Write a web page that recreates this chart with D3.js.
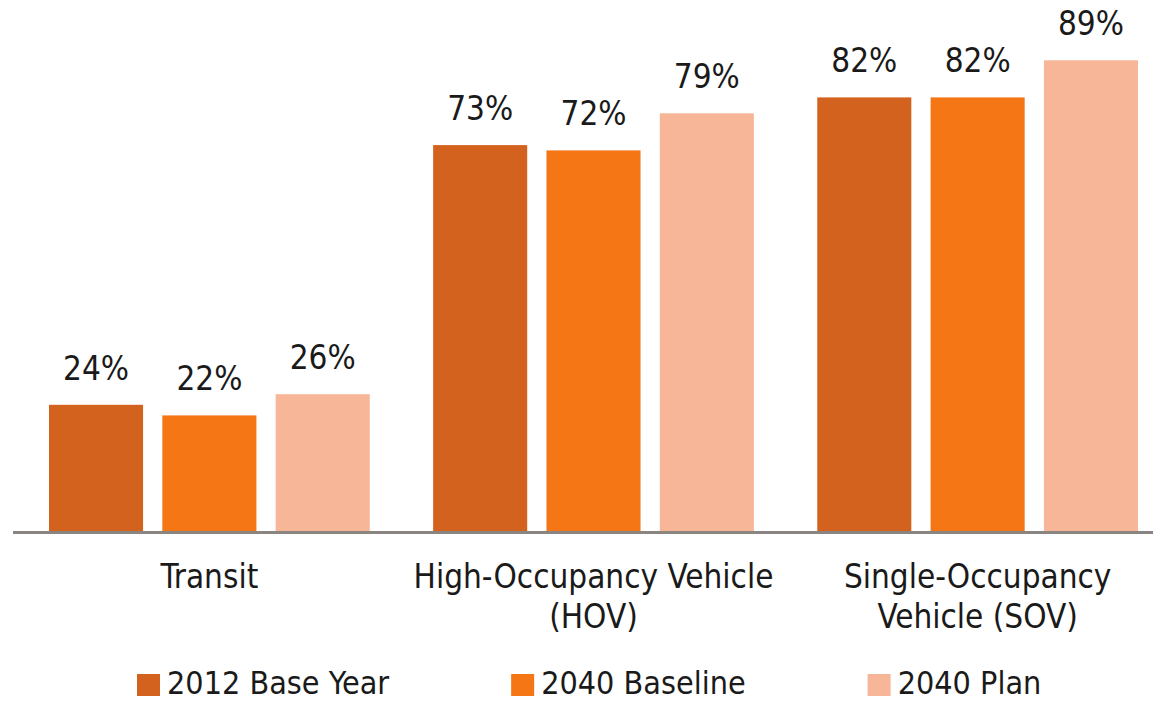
<!DOCTYPE html>
<html>
<head>
<meta charset="utf-8">
<script src="https://cdn.jsdelivr.net/npm/d3@7"></script>
<style>
  body { margin: 0; background: #fff; }
  text { font-family: "DejaVu Sans Condensed", "DejaVu Sans", sans-serif; font-stretch: condensed; fill: #1a1a1a; }
</style>
</head>
<body>
<div id="chart"></div>
<script>
// data
var categories = ["Transit", "High-Occupancy Vehicle (HOV)", "Single-Occupancy Vehicle (SOV)"];
var categoryLines = [["Transit"], ["High-Occupancy Vehicle", "(HOV)"], ["Single-Occupancy", "Vehicle (SOV)"]];
var seriesNames = ["2012 Base Year", "2040 Baseline", "2040 Plan"];
var base2012 = [24, 73, 82];
var baseline2040 = [22, 72, 82];
var plan2040 = [26, 79, 89];
var colors = ["#d3621f", "#f47615", "#f7b698"];

var seriesValues = [base2012, baseline2040, plan2040];

var width = 1153, height = 703;
var baseY = 532;

var svg = d3.select("#chart").append("svg")
    .attr("width", width)
    .attr("height", height);

// group scale and inner scale
var x0 = d3.scaleBand()
    .domain(categories)
    .range([49, 1138])
    .paddingInner(0.165)
    .paddingOuter(0);

var x1 = d3.scaleBand()
    .domain(seriesNames)
    .range([0, x0.bandwidth()])
    .paddingInner(0.17);

// 5.3 px per percent point
var y = d3.scaleLinear()
    .domain([0, 100])
    .range([baseY, baseY - 530]);

var groups = svg.selectAll("g.group")
    .data(categories)
    .enter()
    .append("g")
    .attr("class", "group")
    .attr("transform", function(d) { return "translate(" + x0(d) + ",0)"; });

groups.selectAll("rect")
    .data(function(d, i) {
      return seriesNames.map(function(s, j) { return {series: s, value: seriesValues[j][i], color: colors[j]}; });
    })
    .enter()
    .append("rect")
    .attr("x", function(d) { return x1(d.series); })
    .attr("y", function(d) { return y(d.value); })
    .attr("width", x1.bandwidth())
    .attr("height", function(d) { return baseY - y(d.value); })
    .attr("fill", function(d) { return d.color; });

// value labels
groups.selectAll("text.val")
    .data(function(d, i) {
      return seriesNames.map(function(s, j) { return {series: s, value: seriesValues[j][i]}; });
    })
    .enter()
    .append("text")
    .attr("class", "val")
    .attr("x", function(d) { return x1(d.series) + x1.bandwidth() / 2; })
    .attr("y", function(d) { return y(d.value) - 25; })
    .attr("text-anchor", "middle")
    .attr("font-size", "33px")
    .text(function(d) { return d.value + "%"; });

// baseline
svg.append("line")
    .attr("x1", 13)
    .attr("x2", width)
    .attr("y1", baseY + 0.5)
    .attr("y2", baseY + 0.5)
    .attr("stroke", "#8a8580")
    .attr("stroke-width", 3);

// category axis, multi-line labels
var xAxis = svg.append("g")
    .attr("transform", "translate(0," + baseY + ")")
    .call(d3.axisBottom(x0).tickSize(0).tickFormat(""));
xAxis.select(".domain").remove();

xAxis.selectAll(".tick").each(function(d, i) {
  var t = d3.select(this).append("text")
      .attr("text-anchor", "middle")
      .attr("font-size", "33px")
      .attr("y", 56);
  categoryLines[i].forEach(function(line, k) {
    t.append("tspan")
      .attr("x", 0)
      .attr("dy", k === 0 ? 0 : 40)
      .text(line);
  });
});

// legend (kept a few px up so descenders stay inside the page)
var legend = svg.append("g").attr("transform", "translate(137,0)");
var lx = 0;
seriesNames.forEach(function(name, i) {
  var item = legend.append("g").attr("transform", "translate(" + lx + ",0)");
  item.append("rect")
    .attr("x", 0)
    .attr("y", 674)
    .attr("width", 23)
    .attr("height", 22)
    .attr("fill", colors[i]);
  var t = item.append("text")
    .attr("x", 30)
    .attr("y", 694)
    .attr("font-size", "32px")
    .text(name);
  lx += 30 + t.node().getComputedTextLength() + 122;
});
</script>
</body>
</html>
